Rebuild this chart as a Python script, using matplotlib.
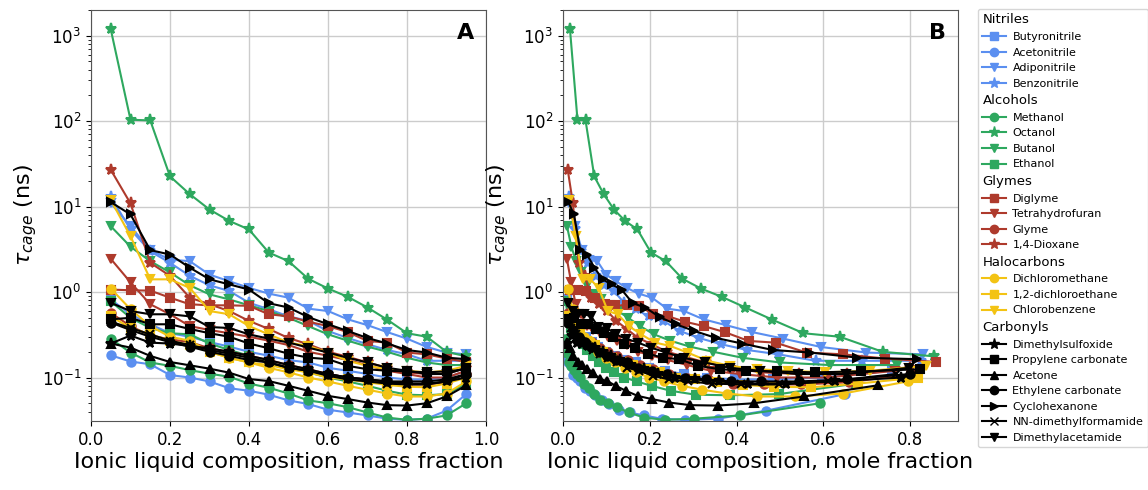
import numpy as np
import matplotlib.pyplot as plt
from matplotlib.lines import Line2D

# mass fraction of ionic liquid (panel A x values)
mass_frac = [0.05, 0.10, 0.15, 0.20, 0.25, 0.30, 0.35, 0.40, 0.45, 0.50,
             0.55, 0.60, 0.65, 0.70, 0.75, 0.80, 0.85, 0.90, 0.95]

# molar masses (g/mol) used to express the same points as mole fraction (panel B)
il_molar_mass = 419.36

# tau_cage (ns) per solvent
butyronitrile = [0.82, 0.55, 0.42, 0.33, 0.30, 0.26, 0.23, 0.20, 0.18, 0.16,
                 0.15, 0.13, 0.12, 0.11, 0.10, 0.095, 0.095, 0.10, 0.12]
acetonitrile = [0.182, 0.154, 0.143, 0.107, 0.100, 0.090, 0.075, 0.070, 0.063, 0.054,
                0.049, 0.042, 0.039, 0.036, 0.033, 0.032, 0.033, 0.041, 0.064]
adiponitrile = [11.0, 5.9, 3.1, 2.4, 2.3, 1.6, 1.34, 1.12, 0.96, 0.86,
                0.64, 0.60, 0.48, 0.41, 0.34, 0.285, 0.228, 0.196, 0.187]
benzonitrile = [13.0, 5.4, 3.0, 2.2, 1.55, 1.2, 1.03, 0.75, 0.63, 0.52,
                0.46, 0.35, 0.29, 0.245, 0.21, 0.187, 0.157, 0.157, 0.157]
methanol = [0.285, 0.196, 0.150, 0.137, 0.122, 0.111, 0.102, 0.085, 0.076, 0.065,
            0.054, 0.050, 0.045, 0.039, 0.034, 0.032, 0.033, 0.036, 0.050]
octanol = [1190, 104, 102, 22.6, 14.0, 9.25, 6.8, 5.4, 2.9, 2.3,
           1.43, 1.10, 0.88, 0.66, 0.475, 0.33, 0.30, 0.20, 0.177]
butanol = [5.9, 3.4, 2.3, 1.7, 1.2, 0.94, 0.82, 0.70, 0.60, 0.50,
           0.40, 0.32, 0.27, 0.23, 0.20, 0.17, 0.15, 0.14, 0.14]
ethanol = [0.78, 0.50, 0.38, 0.33, 0.32, 0.25, 0.21, 0.18, 0.15, 0.13,
           0.115, 0.10, 0.09, 0.08, 0.07, 0.063, 0.062, 0.064, 0.085]
diglyme = [1.07, 1.05, 1.04, 0.86, 0.72, 0.70, 0.70, 0.69, 0.55, 0.52,
           0.45, 0.40, 0.34, 0.268, 0.256, 0.196, 0.187, 0.167, 0.152]
tetrahydrofuran = [2.45, 1.3, 0.72, 0.55, 0.40, 0.36, 0.33, 0.30, 0.27, 0.24,
                   0.20, 0.18, 0.16, 0.14, 0.12, 0.11, 0.10, 0.10, 0.12]
glyme = [0.57, 0.40, 0.31, 0.28, 0.26, 0.22, 0.20, 0.18, 0.16, 0.14,
         0.125, 0.11, 0.10, 0.095, 0.085, 0.083, 0.083, 0.088, 0.11]
dioxane = [27.0, 10.9, 2.2, 1.55, 0.86, 0.72, 0.60, 0.46, 0.37, 0.29,
           0.245, 0.20, 0.175, 0.15, 0.13, 0.115, 0.11, 0.11, 0.13]
dichloromethane = [1.1, 0.63, 0.40, 0.30, 0.27, 0.20, 0.17, 0.15, 0.13, 0.115,
                   0.10, 0.09, 0.08, 0.072, 0.065, 0.060, 0.060, 0.065, 0.09]
dichloroethane = [0.52, 0.38, 0.32, 0.27, 0.24, 0.20, 0.17, 0.15, 0.14, 0.125,
                  0.115, 0.10, 0.095, 0.088, 0.082, 0.078, 0.077, 0.085, 0.10]
chlorobenzene = [12.0, 4.5, 1.41, 1.41, 1.12, 0.60, 0.55, 0.40, 0.32, 0.257,
                 0.234, 0.196, 0.157, 0.137, 0.125, 0.12, 0.115, 0.12, 0.137]
dimethylsulfoxide = [0.25, 0.31, 0.256, 0.25, 0.234, 0.22, 0.20, 0.18, 0.16, 0.14,
                     0.125, 0.11, 0.10, 0.095, 0.09, 0.085, 0.085, 0.09, 0.10]
propylene_carbonate = [0.48, 0.50, 0.42, 0.42, 0.37, 0.33, 0.30, 0.25, 0.22, 0.19,
                       0.171, 0.164, 0.137, 0.125, 0.12, 0.118, 0.115, 0.118, 0.125]
acetone = [0.25, 0.224, 0.179, 0.152, 0.139, 0.127, 0.114, 0.096, 0.091, 0.080,
           0.070, 0.061, 0.056, 0.051, 0.0475, 0.047, 0.050, 0.060, 0.081]
ethylene_carbonate = [0.44, 0.36, 0.30, 0.26, 0.23, 0.20, 0.18, 0.16, 0.15, 0.13,
                      0.12, 0.11, 0.10, 0.095, 0.09, 0.09, 0.09, 0.095, 0.11]
cyclohexanone = [11.3, 8.1, 3.1, 2.75, 1.93, 1.41, 1.23, 1.07, 0.74, 0.66,
                 0.51, 0.42, 0.35, 0.29, 0.25, 0.21, 0.196, 0.171, 0.164]
dmf = [0.45, 0.38, 0.32, 0.27, 0.24, 0.21, 0.19, 0.17, 0.15, 0.13,
       0.12, 0.105, 0.095, 0.09, 0.085, 0.083, 0.083, 0.09, 0.11]
dimethylacetamide = [0.75, 0.60, 0.55, 0.55, 0.52, 0.39, 0.38, 0.32, 0.285, 0.257,
                     0.224, 0.196, 0.17, 0.15, 0.13, 0.12, 0.11, 0.11, 0.13]

group_names = ["Nitriles", "Alcohols", "Glymes", "Halocarbons", "Carbonyls"]
group_colors = ["#5b8ff0", "#2ea85f", "#ae3a2c", "#f3c313", "black"]

# (label, group index, marker, molar mass, values)
solvents = [
    ("Butyronitrile", 0, "s", 69.11, butyronitrile),
    ("Acetonitrile", 0, "o", 41.05, acetonitrile),
    ("Adiponitrile", 0, "v", 108.14, adiponitrile),
    ("Benzonitrile", 0, "*", 103.12, benzonitrile),
    ("Methanol", 1, "o", 32.04, methanol),
    ("Octanol", 1, "*", 130.23, octanol),
    ("Butanol", 1, "v", 74.12, butanol),
    ("Ethanol", 1, "s", 46.07, ethanol),
    ("Diglyme", 2, "s", 134.17, diglyme),
    ("Tetrahydrofuran", 2, "v", 72.11, tetrahydrofuran),
    ("Glyme", 2, "o", 90.12, glyme),
    ("1,4-Dioxane", 2, "*", 88.11, dioxane),
    ("Dichloromethane", 3, "o", 84.93, dichloromethane),
    ("1,2-dichloroethane", 3, "s", 98.96, dichloroethane),
    ("Chlorobenzene", 3, "v", 112.56, chlorobenzene),
    ("Dimethylsulfoxide", 4, "*", 78.13, dimethylsulfoxide),
    ("Propylene carbonate", 4, "s", 102.09, propylene_carbonate),
    ("Acetone", 4, "^", 58.08, acetone),
    ("Ethylene carbonate", 4, "o", 88.06, ethylene_carbonate),
    ("Cyclohexanone", 4, ">", 98.14, cyclohexanone),
    ("NN-dimethylformamide", 4, "x", 73.09, dmf),
    ("Dimethylacetamide", 4, "v", 87.12, dimethylacetamide),
]


def to_mole_fraction(w, solvent_mass):
    w = np.asarray(w)
    n_il = w / il_molar_mass
    n_solv = (1 - w) / solvent_mass
    return n_il / (n_il + n_solv)


def marker_size(m):
    return 8 if m == "*" else 6


fig = plt.figure(figsize=(11.48, 4.9), dpi=100)
ax_a = fig.add_axes([91 / 1148, 1 - 421 / 490, 395 / 1148, 411 / 490])
ax_b = fig.add_axes([563 / 1148, 1 - 421 / 490, 395 / 1148, 411 / 490])

for name, g, m, mm, tau in solvents:
    col = group_colors[g]
    ax_a.plot(mass_frac, tau, color=col, marker=m, ms=marker_size(m), lw=1.5, mew=1.5)
    ax_b.plot(to_mole_fraction(mass_frac, mm), tau, color=col, marker=m,
              ms=marker_size(m), lw=1.5, mew=1.5)

for ax, xlab, letter, xmax in [(ax_a, "Ionic liquid composition, mass fraction", "A", 1.0),
                               (ax_b, "Ionic liquid composition, mole fraction", "B", 0.91)]:
    ax.set_yscale("log")
    ax.set_ylim(0.031, 2000)
    ax.set_xlim(0, xmax)
    ax.grid(True, color="#cccccc", lw=1)
    ax.set_axisbelow(True)
    ax.set_xlabel(xlab, fontsize=16, labelpad=2)
    ax.set_ylabel(r"$\tau_{cage}$ (ns)", fontsize=16, labelpad=2)
    ax.tick_params(labelsize=12)
    for s in ax.spines.values():
        s.set_color("#555555")
    ax.text(0.947, 0.944, letter, transform=ax.transAxes, fontsize=16,
            fontweight="bold", ha="center", va="center")
ax_b.set_xticks([0.0, 0.2, 0.4, 0.6, 0.8])

# legend with group headers
handles, labels, is_header = [], [], []
for g, gname in enumerate(group_names):
    handles.append(Line2D([], [], linestyle="none"))
    labels.append(gname)
    is_header.append(True)
    for name, gg, m, mm, tau in solvents:
        if gg != g:
            continue
        handles.append(Line2D([], [], color=group_colors[g], marker=m,
                              ms=marker_size(m), lw=1.5))
        labels.append(name)
        is_header.append(False)

leg = fig.legend(handles, labels, loc="upper left",
                 bbox_to_anchor=(978 / 1148, 1 - 9 / 490), fontsize=8,
                 handlelength=2.1, handletextpad=0.6, labelspacing=0.5,
                 borderpad=0.4, borderaxespad=0)
shift = (2.1 + 0.6) * 8 * 100 / 72
for t, h in zip(leg.get_texts(), is_header):
    if h:
        t.set_fontsize(9.5)
        t.set_x(-shift)

fig.savefig("out.png", dpi=100)
